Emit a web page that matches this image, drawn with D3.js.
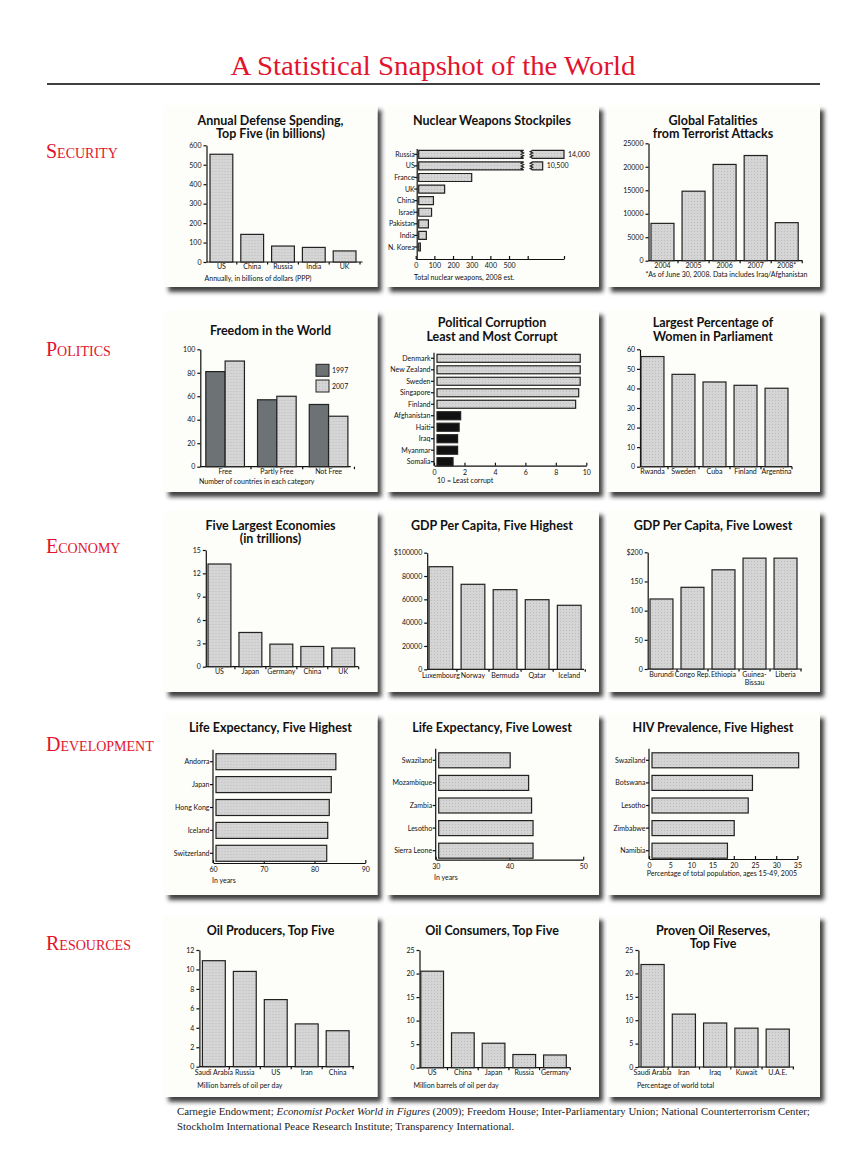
<!DOCTYPE html>
<html>
<head>
<meta charset="utf-8">
<script src="https://cdn.jsdelivr.net/npm/d3@7"></script>
<style>
body { margin: 0; background: #fff; }
svg text { font-family: Lato, "Open Sans", sans-serif; fill: #111; }
.ptitle { font-weight: 700; font-size: 12.5px; text-anchor: middle; }
.tick text, .cat { font-size: 7px; }
.note { font-size: 7px; }
.axis path, .axis line, .base, .btick, .yline { stroke: #111; stroke-width: 1.2; fill: none; }
.section { font-family: "Liberation Serif", serif; font-variant: small-caps; fill: #e2142d; font-size: 20px; }
.head { font-family: "Liberation Serif", serif; fill: #e2142d; font-size: 28px; text-anchor: middle; }
.foot { font-family: "Liberation Serif", serif; fill: #222; font-size: 10.8px; }
</style>
</head>
<body>
<svg id="page" width="864" height="1174"></svg>
<script>
// ---- data ----
// Security
var defenseCountries = ["US", "China", "Russia", "India", "UK"];
var defenseBillions = [554, 142, 82, 75, 57];
var defenseTicks = [0, 100, 200, 300, 400, 500, 600];

var nukeCountries = ["Russia", "US", "France", "UK", "China", "Israel", "Pakistan", "India", "N. Korea"];
var nukeWarheads = [14000, 10500, 300, 155, 95, 85, 68, 57, 25];
var nukeTicks = [0, 100, 200, 300, 400, 500];

var terrorYears = ["2004", "2005", "2006", "2007", "2008*"];
var terrorDeaths = [7950, 14800, 20500, 22400, 8100];
var terrorTicks = [0, 5000, 10000, 15000, 20000, 25000];

// Politics
var freedomCats = ["Free", "Partly Free", "Not Free"];
var freedomYears = ["1997", "2007"];
var freedom1997 = [81, 57, 53];
var freedom2007 = [90, 60, 43];
var freedomTicks = [0, 20, 40, 60, 80, 100];

var corruptCountries = ["Denmark", "New Zealand", "Sweden", "Singapore", "Finland",
  "Afghanistan", "Haiti", "Iraq", "Myanmar", "Somalia"];
var corruptScores = [9.6, 9.6, 9.6, 9.5, 9.3, 1.75, 1.65, 1.55, 1.55, 1.25];
var corruptTicks = [0, 2, 4, 6, 8, 10];

var womenCountries = ["Rwanda", "Sweden", "Cuba", "Finland", "Argentina"];
var womenPct = [56.3, 47.2, 43.3, 41.6, 40.1];
var womenTicks = [0, 10, 20, 30, 40, 50, 60];

// Economy
var econCountries = ["US", "Japan", "Germany", "China", "UK"];
var econTrillions = [13.2, 4.4, 2.9, 2.6, 2.4];
var econTicks = [0, 3, 6, 9, 12, 15];

var gdpHighCountries = ["Luxembourg", "Norway", "Bermuda", "Qatar", "Iceland"];
var gdpHighValues = [88000, 72900, 68300, 59700, 54900];
var gdpHighTicks = [0, 20000, 40000, 60000, 80000, 100000];

var gdpLowCountries = ["Burundi", "Congo Rep.", "Ethiopia", "Guinea-Bissau", "Liberia"];
var gdpLowValues = [120, 140, 170, 190, 190];
var gdpLowTicks = [0, 50, 100, 150, 200];

// Development
var lifeHighCountries = ["Andorra", "Japan", "Hong Kong", "Iceland", "Switzerland"];
var lifeHighYears = [84.2, 83.3, 82.9, 82.6, 82.4];
var lifeHighTicks = [60, 70, 80, 90];

var lifeLowCountries = ["Swaziland", "Mozambique", "Zambia", "Lesotho", "Sierra Leone"];
var lifeLowYears = [40.1, 42.6, 43.0, 43.2, 43.2];
var lifeLowTicks = [30, 40, 50];

var hivCountries = ["Swaziland", "Botswana", "Lesotho", "Zimbabwe", "Namibia"];
var hivPct = [35.3, 24.4, 23.4, 20.1, 18.5];
var hivTicks = [0, 5, 10, 15, 20, 25, 30, 35];

// Resources
var oilProdCountries = ["Saudi Arabia", "Russia", "US", "Iran", "China"];
var oilProdMbd = [10.9, 9.8, 6.9, 4.4, 3.7];
var oilProdTicks = [0, 2, 4, 6, 8, 10, 12];

var oilConsCountries = ["US", "China", "Japan", "Russia", "Germany"];
var oilConsMbd = [20.5, 7.4, 5.2, 2.8, 2.7];
var oilConsTicks = [0, 5, 10, 15, 20, 25];

var reserveCountries = ["Saudi Arabia", "Iran", "Iraq", "Kuwait", "U.A.E."];
var reservePct = [21.9, 11.3, 9.4, 8.3, 8.1];
var reserveTicks = [0, 5, 10, 15, 20, 25];

var sections = ["Security", "Politics", "Economy", "Development", "Resources"];

// ---- page ----
var svg = d3.select("#page");
var defs = svg.append("defs");

defs.append("filter").attr("id", "shadow")
    .attr("x", "-5%").attr("y", "-5%").attr("width", "115%").attr("height", "115%")
  .append("feDropShadow")
    .attr("dx", 4).attr("dy", 5).attr("stdDeviation", 2.2)
    .attr("flood-color", "#1a1a1a").attr("flood-opacity", 0.85);

var stip = defs.append("pattern").attr("id", "stip")
    .attr("width", 3).attr("height", 3).attr("patternUnits", "userSpaceOnUse");
stip.append("rect").attr("width", 3).attr("height", 3).attr("fill", "#d5d5d5");
stip.append("rect").attr("width", 1).attr("height", 1).attr("fill", "#bcbcbc");

svg.append("text").attr("class", "head").attr("x", 433).attr("y", 75)
    .attr("textLength", 405).attr("lengthAdjust", "spacingAndGlyphs")
    .text("A Statistical Snapshot of the World");
svg.append("line").attr("x1", 47).attr("x2", 820).attr("y1", 84).attr("y2", 84)
    .attr("stroke", "#000").attr("stroke-width", 1.5);

var sectionY = [158, 356, 553, 751, 950];
svg.selectAll(".section").data(sections).join("text")
    .attr("class", "section")
    .attr("x", 46)
    .attr("y", (d, i) => sectionY[i])
    .text(d => d);

var colX = [164.5, 386, 607];
var rowY = [105, 310, 510, 713, 915];

function panel(col, row) {
    var g = svg.append("g").attr("transform", `translate(${colX[col]}, ${rowY[row]})`);
    g.append("rect").attr("width", 213).attr("height", 182)
        .attr("fill", "#fdfdfa").attr("filter", "url(#shadow)");
    return g;
}

function title(g, lines, y0) {
    g.selectAll(".ptitle").data(lines).join("text")
        .attr("class", "ptitle")
        .attr("x", 106)
        .attr("y", (d, i) => y0 + i * 13.3)
        .text(d => d);
}

function note(g, x, y, txt) {
    g.append("text").attr("class", "note").attr("x", x).attr("y", y).text(txt);
}

// vertical bar chart
function vbars(g, o) {
    var x = d3.scaleBand().domain(o.cats).range([o.b0, o.b1]).paddingInner(0.26);
    var y = d3.scaleLinear().domain([0, o.max]).range([o.yBot, o.yTop]);

    g.append("g").attr("class", "axis")
        .attr("transform", `translate(${o.ax}, 0)`)
        .call(d3.axisLeft(y).tickValues(o.ticks).tickSize(3).tickPadding(2)
            .tickSizeOuter(0).tickFormat(o.fmt || (d => d)));

    g.append("line").attr("class", "base")
        .attr("x1", o.ax).attr("x2", o.ax2).attr("y1", o.yBot).attr("y2", o.yBot);

    var gap = x.step() - x.bandwidth();
    g.selectAll(".btick").data(o.cats).join("line")
        .attr("class", "btick")
        .attr("x1", d => x(d) + x.bandwidth() + gap / 2)
        .attr("x2", d => x(d) + x.bandwidth() + gap / 2)
        .attr("y1", o.yBot).attr("y2", o.yBot + 2.5);

    g.selectAll(".bar").data(o.vals).join("rect")
        .attr("class", "bar")
        .attr("x", (d, i) => x(o.cats[i]))
        .attr("width", x.bandwidth())
        .attr("y", d => y(d))
        .attr("height", d => o.yBot - y(d))
        .attr("fill", "url(#stip)")
        .attr("stroke", "#222")
        .attr("stroke-width", 1.2);

    var lab = g.selectAll(".cat").data(o.cats).join("text")
        .attr("class", "cat")
        .attr("text-anchor", "middle")
        .attr("y", o.labY);
    lab.selectAll("tspan").data(d => d.split(/(?<=-)/).map(t => ({t: t, d: d}))).join("tspan")
        .attr("x", p => x(p.d) + x.bandwidth() / 2)
        .attr("dy", (p, i) => i ? 7.5 : 0)
        .text(p => p.t);
}

// horizontal bar chart
function hbars(g, o) {
    var x = d3.scaleLinear().domain(o.domain).range(o.xr);
    var y = d3.scalePoint().domain(o.cats).range(o.yr);
    var x0 = x(o.domain[0]);

    g.append("g").attr("class", "axis")
        .attr("transform", `translate(0, ${o.axisY})`)
        .call(d3.axisBottom(x).tickValues(o.ticks).tickSize(-3).tickPadding(4).tickSizeOuter(0));

    g.append("line").attr("class", "yline")
        .attr("x1", x0).attr("x2", x0).attr("y1", o.yTop).attr("y2", o.axisY);
    g.selectAll(".ytk").data(o.cats).join("line")
        .attr("class", "yline")
        .attr("x1", x0 - 3).attr("x2", x0)
        .attr("y1", d => y(d)).attr("y2", d => y(d));

    g.selectAll(".cat").data(o.cats).join("text")
        .attr("class", "cat")
        .attr("text-anchor", "end")
        .attr("x", x0 - 3.5)
        .attr("y", d => y(d) + 2.5)
        .text(d => d);

    g.selectAll(".bar").data(o.vals).join("rect")
        .attr("class", "bar")
        .attr("x", x0 + 3)
        .attr("y", (d, i) => y(o.cats[i]) - o.h / 2)
        .attr("width", d => x(d) - x0 - 3)
        .attr("height", o.h)
        .attr("fill", (d, i) => o.color ? o.color(i) : "url(#stip)")
        .attr("stroke", "#222")
        .attr("stroke-width", 1.2);
}

// ---- Security ----
var p = panel(0, 0);
title(p, ["Annual Defense Spending,", "Top Five (in billions)"], 19.5);
vbars(p, {cats: defenseCountries, vals: defenseBillions, ticks: defenseTicks, max: 600,
    ax: 42, ax2: 198, b0: 45.5, b1: 191.5, yTop: 40.3, yBot: 157, labY: 164});
note(p, 40, 176, "Annually, in billions of dollars (PPP)");

// nuclear stockpiles: broken scale for the two big arsenals
p = panel(1, 0);
title(p, ["Nuclear Weapons Stockpiles"], 19.5);
(function(g) {
    var breakLo = 573, breakHi = 8700;
    var x = d3.scaleLinear().domain([0, 600, breakHi, 14000]).range([29.7, 141.7, 145.7, 178]);
    var y = d3.scalePoint().domain(nukeCountries).range([49.3, 142]);
    var x0 = x(0), axisY = 154, h = 8;

    g.append("g").attr("class", "axis")
        .attr("transform", `translate(0, ${axisY})`)
        .call(d3.axisBottom(x).tickValues(nukeTicks.concat([600, 14000]))
            .tickSize(-3).tickPadding(4).tickSizeOuter(0)
            .tickFormat(d => nukeTicks.includes(d) ? d : ""));

    g.append("line").attr("class", "yline")
        .attr("x1", x0 + 1.5).attr("x2", x0 + 1.5).attr("y1", 44).attr("y2", axisY);
    g.selectAll(".ytk").data(nukeCountries).join("line")
        .attr("class", "yline")
        .attr("x1", x0 - 1.5).attr("x2", x0 + 1.5)
        .attr("y1", d => y(d)).attr("y2", d => y(d));
    g.selectAll(".cat").data(nukeCountries).join("text")
        .attr("class", "cat").attr("text-anchor", "end")
        .attr("x", x0 - 1).attr("y", d => y(d) + 2.5)
        .text(d => d);

    var zig = [1, -1.5, 1, -1.5, 1, -1.5, 1];
    function zz(xb, top, down) {
        var pts = zig.map((dx, k) => [xb + dx, top + h * k / (zig.length - 1)]);
        if (!down) pts.reverse();
        return pts.map(q => "L" + q[0] + "," + q[1]).join("");
    }
    var rows = nukeCountries.map((c, i) => ({c: c, v: nukeWarheads[i]}));
    rows.forEach(function(r) {
        var top = y(r.c) - h / 2, xs = x0 + 3;
        var d;
        if (r.v > 600) {
            d = `M${xs},${top}L${x(breakLo)},${top}` + zz(x(breakLo), top, true) + `L${xs},${top + h}Z`;
            d += `M${x(breakHi)},${top}L${x(r.v)},${top}L${x(r.v)},${top + h}L${x(breakHi)},${top + h}` +
                zz(x(breakHi), top, false) + "Z";
        } else {
            d = `M${xs},${top}L${x(r.v)},${top}L${x(r.v)},${top + h}L${xs},${top + h}Z`;
        }
        g.append("path").attr("d", d).attr("fill", "url(#stip)")
            .attr("stroke", "#222").attr("stroke-width", 1.2);
        if (r.v > 600) {
            g.append("text").attr("class", "cat")
                .attr("x", x(r.v) + 4).attr("y", y(r.c) + 2.5)
                .text(d3.format(",")(r.v));
        }
    });
})(p);
note(p, 28, 175, "Total nuclear weapons, 2008 est.");

p = panel(2, 0);
title(p, ["Global Fatalities", "from Terrorist Attacks"], 19.5);
vbars(p, {cats: terrorYears, vals: terrorDeaths, ticks: terrorTicks, max: 25000,
    ax: 41.5, ax2: 195.5, b0: 44, b1: 191.2, yTop: 38.3, yBot: 155.7, labY: 163});
note(p, 38.6, 172, "*As of June 30, 2008. Data includes Iraq/Afghanistan");

// ---- Politics ----
p = panel(0, 1);
title(p, ["Freedom in the World"], 24.5);
(function(g) {
    var ax = 35.8, ax2 = 186.3, yTop = 39.3, yBot = 156.7;
    var x = d3.scaleBand().domain(freedomCats).range([41.3, 183.4]).paddingInner(0.253);
    var xs = d3.scaleBand().domain(freedomYears).range([0, x.bandwidth()]);
    var y = d3.scaleLinear().domain([0, 100]).range([yBot, yTop]);
    var color = d3.scaleOrdinal().domain(freedomYears).range(["#6d7275", "url(#stip)"]);

    g.append("g").attr("class", "axis").attr("transform", `translate(${ax}, 0)`)
        .call(d3.axisLeft(y).tickValues(freedomTicks).tickSize(3).tickPadding(2).tickSizeOuter(0));
    g.append("line").attr("class", "base").attr("x1", ax).attr("x2", ax2).attr("y1", yBot).attr("y2", yBot);
    var gap = x.step() - x.bandwidth();
    g.selectAll(".btick").data(freedomCats).join("line").attr("class", "btick")
        .attr("x1", d => x(d) + x.bandwidth() + gap / 2).attr("x2", d => x(d) + x.bandwidth() + gap / 2)
        .attr("y1", yBot).attr("y2", yBot + 2.5);

    var rows = [];
    freedomCats.forEach((c, i) => {
        rows.push({c: c, k: "1997", v: freedom1997[i]});
        rows.push({c: c, k: "2007", v: freedom2007[i]});
    });
    g.selectAll(".bar").data(rows).join("rect").attr("class", "bar")
        .attr("x", d => x(d.c) + xs(d.k))
        .attr("width", xs.bandwidth())
        .attr("y", d => y(d.v))
        .attr("height", d => yBot - y(d.v))
        .attr("fill", d => color(d.k))
        .attr("stroke", "#222").attr("stroke-width", 1.2);

    g.selectAll(".cat").data(freedomCats).join("text").attr("class", "cat")
        .attr("text-anchor", "middle")
        .attr("x", d => x(d) + x.bandwidth() / 2).attr("y", 164)
        .text(d => d);

    var leg = g.selectAll(".leg").data(freedomYears).join("g")
        .attr("transform", (d, i) => `translate(151.5, ${54.3 + i * 15.7})`);
    leg.append("rect").attr("width", 13).attr("height", 12)
        .attr("fill", d => color(d)).attr("stroke", "#222").attr("stroke-width", 1);
    leg.append("text").attr("class", "cat").attr("x", 16).attr("y", 8.5).text(d => d);
})(p);
note(p, 34.5, 174, "Number of countries in each category");

p = panel(1, 1);
title(p, ["Political Corruption", "Least and Most Corrupt"], 17.2);
hbars(p, {cats: corruptCountries, vals: corruptScores, ticks: corruptTicks,
    domain: [0, 10], xr: [48, 200.3], yr: [48.3, 151.7], axisY: 155.7, yTop: 42.7, h: 8,
    color: i => i < 5 ? "url(#stip)" : "#111"});
note(p, 51, 173, "10 = Least corrupt");

p = panel(2, 1);
title(p, ["Largest Percentage of", "Women in Parliament"], 17.2);
vbars(p, {cats: womenCountries, vals: womenPct, ticks: womenTicks, max: 60,
    ax: 33, ax2: 185, b0: 34, b1: 181, yTop: 39.3, yBot: 156.7, labY: 164});

// ---- Economy ----
p = panel(0, 2);
title(p, ["Five Largest Economies", "(in trillions)"], 19.5);
vbars(p, {cats: econCountries, vals: econTrillions, ticks: econTicks, max: 15,
    ax: 41.3, ax2: 194, b0: 43.5, b1: 190.2, yTop: 40, yBot: 156.7, labY: 164});

p = panel(1, 2);
title(p, ["GDP Per Capita, Five Highest"], 19.5);
vbars(p, {cats: gdpHighCountries, vals: gdpHighValues, ticks: gdpHighTicks, max: 100000,
    ax: 41.2, ax2: 198, b0: 43, b1: 195.1, yTop: 42.7, yBot: 159.3, labY: 167.5,
    fmt: d => d === 100000 ? "$" + d : d});

p = panel(2, 2);
title(p, ["GDP Per Capita, Five Lowest"], 19.5);
vbars(p, {cats: gdpLowCountries, vals: gdpLowValues, ticks: gdpLowTicks, max: 200,
    ax: 40.7, ax2: 194.7, b0: 43, b1: 190, yTop: 42.3, yBot: 159, labY: 167,
    fmt: d => d === 200 ? "$" + d : d});

// ---- Development ----
p = panel(0, 3);
title(p, ["Life Expectancy, Five Highest"], 18.8);
hbars(p, {cats: lifeHighCountries, vals: lifeHighYears, ticks: lifeHighTicks,
    domain: [60, 90], xr: [48.5, 200.8], yr: [48.7, 140.3], axisY: 150, yTop: 36.7, h: 16});
note(p, 47.5, 170, "In years");

p = panel(1, 3);
title(p, ["Life Expectancy, Five Lowest"], 18.8);
hbars(p, {cats: lifeLowCountries, vals: lifeLowYears, ticks: lifeLowTicks,
    domain: [30, 50], xr: [49.7, 197.2], yr: [47.3, 137.7], axisY: 146.7, yTop: 35.7, h: 15});
note(p, 48, 167, "In years");

p = panel(2, 3);
title(p, ["HIV Prevalence, Five Highest"], 18.8);
hbars(p, {cats: hivCountries, vals: hivPct, ticks: hivTicks,
    domain: [0, 35], xr: [42, 190.4], yr: [47.3, 137.7], axisY: 146, yTop: 35.7, h: 15});
note(p, 39.8, 163, "Percentage of total population, ages 15-49, 2005");

// ---- Resources ----
p = panel(0, 4);
title(p, ["Oil Producers, Top Five"], 19.5);
vbars(p, {cats: oilProdCountries, vals: oilProdMbd, ticks: oilProdTicks, max: 12,
    ax: 34.9, ax2: 189.5, b0: 37.9, b1: 184.6, yTop: 35, yBot: 151.7, labY: 159.5});
note(p, 32.8, 172.5, "Million barrels of oil per day");

p = panel(1, 4);
title(p, ["Oil Consumers, Top Five"], 19.5);
vbars(p, {cats: oilConsCountries, vals: oilConsMbd, ticks: oilConsTicks, max: 25,
    ax: 33.5, ax2: 184.5, b0: 34.8, b1: 180.3, yTop: 35, yBot: 152.7, labY: 160});
note(p, 27.6, 173, "Million barrels of oil per day");

p = panel(2, 4);
title(p, ["Proven Oil Reserves,", "Top Five"], 19.5);
vbars(p, {cats: reserveCountries, vals: reservePct, ticks: reserveTicks, max: 25,
    ax: 31.4, ax2: 187, b0: 34, b1: 182.3, yTop: 35, yBot: 152, labY: 159.5});
note(p, 30, 172.5, "Percentage of world total");

// ---- sources ----
var foot = svg.append("text").attr("class", "foot").attr("x", 177).attr("y", 1114.5);
foot.append("tspan").text("Carnegie Endowment; ");
foot.append("tspan").attr("font-style", "italic").text("Economist Pocket World in Figures");
foot.append("tspan").text(" (2009); Freedom House; Inter-Parliamentary Union; National Counterterrorism Center;");
svg.append("text").attr("class", "foot").attr("x", 177).attr("y", 1129.5)
    .text("Stockholm International Peace Research Institute; Transparency International.");
</script>
</body>
</html>
